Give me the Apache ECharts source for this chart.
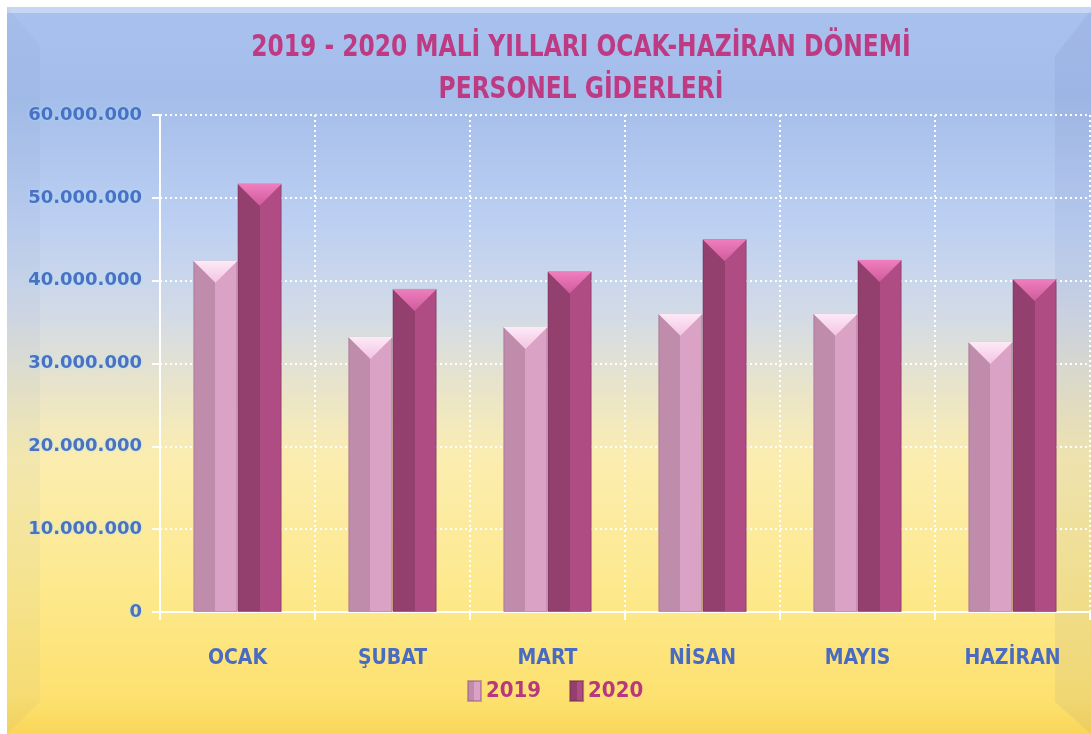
<!DOCTYPE html>
<html>
<head>
<meta charset="utf-8">
<script src="https://cdn.jsdelivr.net/npm/echarts@6/dist/echarts.min.js"></script>
<style>
html,body{margin:0;padding:0;background:#fff;}
#c{width:1091px;height:734px;}
</style>
</head>
<body>
<div id="c"></div>
<script>
const categories = ['OCAK', 'ŞUBAT', 'MART', 'NİSAN', 'MAYIS', 'HAZİRAN'];
const values2019 = [42400000, 33200000, 34400000, 36000000, 36000000, 32600000];
const values2020 = [51700000, 39000000, 41100000, 45000000, 42500000, 40200000];
const seriesNames = ['2019', '2020'];
const titleLines = ['2019 - 2020 MALİ YILLARI OCAK-HAZİRAN DÖNEMİ', 'PERSONEL GİDERLERİ'];

const chart = echarts.init(document.getElementById('c'), null, {renderer: 'canvas'});
const narrow = "'DejaVu Sans Condensed', 'Liberation Sans Narrow', sans-serif";

function facet(left, right) {
  return new echarts.graphic.LinearGradient(0, 0, 1, 0, [
    {offset: 0, color: left}, {offset: 0.5, color: left},
    {offset: 0.5, color: right}, {offset: 1, color: right}
  ]);
}
function topGrad(a, b) {
  return new echarts.graphic.LinearGradient(0, 0, 0, 1, [
    {offset: 0, color: a}, {offset: 1, color: b}
  ]);
}
const fmt = v => v === 0 ? '0' : String(v).replace(/\B(?=(\d{3})+(?!\d))/g, '.');

const option = {
  animation: false,
  graphic: [
    {type: 'rect', z: -100, silent: true, shape: {x: 7, y: 7, width: 1084, height: 727},
     style: {fill: new echarts.graphic.LinearGradient(0, 0, 0, 1, [
       {offset: 0, color: '#A9C1EE'},
       {offset: 0.12, color: '#A4BDEA'},
       {offset: 0.3, color: '#BDD0F2'},
       {offset: 0.42, color: '#D2DAE7'},
       {offset: 0.52, color: '#E8E4CB'},
       {offset: 0.62, color: '#FBEDB0'},
       {offset: 0.8, color: '#FDE98D'},
       {offset: 0.95, color: '#FDE170'},
       {offset: 1, color: '#F9D65A'}
     ])}},
    {type: 'rect', z: -99, silent: true, shape: {x: 7, y: 7, width: 1084, height: 6},
     style: {fill: 'rgba(255,255,255,0.35)'}},
    {type: 'polygon', z: -99, silent: true, shape: {points: [[7, 7], [40, 46], [40, 702], [7, 734]]},
     style: {fill: 'rgba(90,110,160,0.05)'}},
    {type: 'polygon', z: -99, silent: true, shape: {points: [[1091, 10], [1055, 56], [1055, 702], [1091, 734]]},
     style: {fill: 'rgba(70,90,150,0.07)'}},
    {type: 'text', z: 10, x: 581, y: 33, originX: 0, scaleX: 0.865, silent: true,
     style: {text: titleLines[0], font: "bold 30px " + narrow, fill: '#BE3A82', textAlign: 'center'}},
    {type: 'text', z: 10, x: 581, y: 75, originX: 0, scaleX: 0.865, silent: true,
     style: {text: titleLines[1], font: "bold 30px " + narrow, fill: '#BE3A82', textAlign: 'center'}}
  ],
  legend: {
    data: seriesNames,
    bottom: 27,
    left: 462,
    icon: 'rect',
    itemWidth: 13,
    itemHeight: 20,
    itemGap: 28,
    textStyle: {color: '#B8387D', fontFamily: narrow, fontWeight: 'bold', fontSize: 22}
  },
  grid: {left: 160, right: 1, top: 115, bottom: 122, containLabel: false},
  xAxis: {
    type: 'category',
    data: categories,
    axisLine: {lineStyle: {color: '#FFFFFF', width: 2}},
    axisTick: {show: true, interval: 0, length: 8, lineStyle: {color: '#FFFFFF', width: 2}},
    axisLabel: {interval: 0, margin: 36, color: '#4A6CC0', fontFamily: narrow, fontWeight: 'bold', fontSize: 21},
    splitLine: {show: true, interval: 0, lineStyle: {color: '#FFFFFF', type: [2, 3], width: 2}}
  },
  yAxis: {
    type: 'value',
    min: 0, max: 60000000, interval: 10000000,
    axisLine: {show: true, lineStyle: {color: '#FFFFFF', width: 2}},
    axisTick: {show: true, length: 8, lineStyle: {color: '#FFFFFF', width: 2}},
    axisLabel: {margin: 18, color: '#4C70C4', fontFamily: "'DejaVu Sans', sans-serif", fontWeight: 'bold', fontSize: 18,
      textShadowColor: 'rgba(160,230,255,0.8)', textShadowBlur: 3, formatter: fmt},
    splitLine: {show: true, lineStyle: {color: '#FFFFFF', type: [2, 3], width: 2}}
  },
  series: [
    {name: seriesNames[0], type: 'bar', data: values2019, barGap: '0%', barCategoryGap: '43%',
     itemStyle: {color: facet('#BF8CAC', '#DAA3C5'), borderColor: 'rgba(150,90,130,0.5)', borderWidth: 1}},
    {name: seriesNames[1], type: 'bar', data: values2020, barGap: '0%', barCategoryGap: '43%',
     itemStyle: {color: facet('#94406F', '#AE4C83'), borderColor: 'rgba(110,40,80,0.5)', borderWidth: 1}},
    {name: seriesNames[0], type: 'pictorialBar', data: values2019, barGap: '0%', barCategoryGap: '43%',
     symbol: 'path://M0,0 L100,0 L50,100 Z', symbolPosition: 'end', symbolSize: ['100%', 22],
     z: 5, itemStyle: {color: topGrad('#FDEAF7', '#F3C4E3')}},
    {name: seriesNames[1], type: 'pictorialBar', data: values2020, barGap: '0%', barCategoryGap: '43%',
     symbol: 'path://M0,0 L100,0 L50,100 Z', symbolPosition: 'end', symbolSize: ['100%', 22],
     z: 5, itemStyle: {color: topGrad('#F07FC0', '#CF5B9B')}}
  ]
};
chart.setOption(option);
</script>
</body>
</html>
